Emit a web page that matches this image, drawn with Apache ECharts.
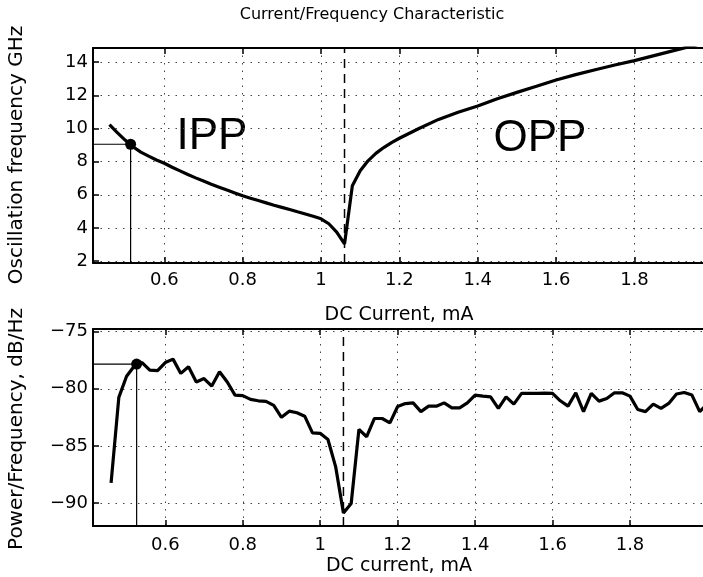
<!DOCTYPE html>
<html>
<head>
<meta charset="utf-8">
<script src="https://cdn.jsdelivr.net/npm/echarts@6/dist/echarts.min.js"></script>
<style>html,body{margin:0;padding:0;background:#fff;}#c{width:703px;height:577px;}</style>
</head>
<body>
<div id="c"></div>
<script>
// ---- data ----
const freqCurrent = [0.46,0.48,0.50,0.52,0.54,0.56,0.58,0.60,0.62,0.64,0.66,0.68,0.70,0.72,0.74,0.76,0.78,0.80,0.82,0.84,0.86,0.88,0.90,0.92,0.94,0.96,0.98,1.00,1.02,1.04,1.06,1.08,1.10,1.12,1.14,1.16,1.18,1.20,1.25,1.30,1.35,1.40,1.45,1.50,1.55,1.60,1.65,1.70,1.75,1.80,1.85,1.90,1.95,2.00];
const freqGHz = [10.23,9.75,9.30,8.90,8.57,8.33,8.10,7.90,7.66,7.44,7.22,7.02,6.83,6.64,6.46,6.28,6.11,5.94,5.79,5.65,5.51,5.37,5.24,5.11,4.97,4.84,4.70,4.55,4.25,3.75,3.03,6.55,7.45,8.05,8.50,8.85,9.15,9.41,10.00,10.55,10.98,11.36,11.80,12.18,12.55,12.93,13.25,13.55,13.83,14.10,14.40,14.70,15.00,15.30];

const psdCurrent = [0.46,0.48,0.50,0.52,0.54,0.56,0.58,0.60,0.62,0.64,0.66,0.68,0.70,0.72,0.74,0.76,0.78,0.80,0.82,0.84,0.86,0.88,0.90,0.92,0.94,0.96,0.98,1.00,1.02,1.04,1.06,1.08,1.10,1.12,1.14,1.16,1.18,1.20,1.22,1.24,1.26,1.28,1.30,1.32,1.34,1.36,1.38,1.40,1.42,1.44,1.46,1.48,1.50,1.52,1.54,1.56,1.58,1.60,1.62,1.64,1.66,1.68,1.70,1.72,1.74,1.76,1.78,1.80,1.82,1.84,1.86,1.88,1.90,1.92,1.94,1.96,1.98,2.00];
const psdDb = [-88.25,-80.75,-78.9,-78.0,-77.7,-78.36,-78.4,-77.7,-77.4,-78.65,-78.07,-79.4,-79.1,-79.76,-78.5,-79.4,-80.55,-80.6,-80.93,-81.05,-81.1,-81.45,-82.5,-81.96,-82.1,-82.4,-83.86,-83.9,-84.44,-86.84,-90.88,-90.05,-83.56,-84.2,-82.6,-82.6,-82.98,-81.55,-81.29,-81.23,-82.0,-81.52,-81.52,-81.23,-81.67,-81.67,-81.23,-80.55,-80.64,-80.7,-81.72,-80.7,-81.34,-80.4,-80.4,-80.4,-80.38,-80.4,-81.05,-81.52,-80.35,-82.0,-80.4,-81.08,-80.85,-80.35,-80.35,-80.64,-81.81,-82.0,-81.34,-81.72,-81.28,-80.46,-80.32,-80.55,-82.0,-81.3];

const topMarker = [0.514, 9.05];
const botMarker = [0.526, -77.83];
const boundaryCurrent = 1.06;

const xTicks = [0.6,0.8,1.0,1.2,1.4,1.6,1.8];
const freqTicks = [2,4,6,8,10,12,14];
const psdTicks = [-90,-85,-80,-75];

const topXRange = [0.418, 1.975];
const topYRange = [1.88, 14.86];
const botXRange = [0.4133, 1.9885];
const botYRange = [-92.02, -74.76];

const texts = {
  title: 'Current/Frequency Characteristic',
  xLabelTop: 'DC Current, mA',
  xLabelBot: 'DC current, mA',
  yLabelTop: 'Oscillation frequency GHz',
  yLabelBot: 'Power/Frequency, dB/Hz',
  left: 'IPP',
  right: 'OPP'
};

// ---- chart ----
const FONT = '"DejaVu Sans", "Liberation Sans", Arial, sans-serif';
const BIG = '"Liberation Sans", Arial, Helvetica, sans-serif';
const zip = (a, b) => a.map((v, i) => [v, b[i]]);

function xAxisPair(gi, range, margin) {
  return [{
    type: 'value', gridIndex: gi, position: 'bottom', min: range[0], max: range[1],
    axisLine: {show: true, onZero: false, lineStyle: {color: '#000', width: 2}},
    axisTick: {show: true, inside: true, length: 6, lineStyle: {color: '#000', width: 1.5}, customValues: xTicks},
    axisLabel: {show: true, color: '#000', fontSize: 18, fontFamily: FONT, margin: margin,
      customValues: xTicks, formatter: v => String(+v.toFixed(1))},
    splitLine: {show: true, lineStyle: {color: '#444', width: 1, type: [1.5, 6]}}
  }, {
    type: 'value', gridIndex: gi, position: 'top', min: range[0], max: range[1],
    axisLine: {show: true, onZero: false, lineStyle: {color: '#000', width: 2}},
    axisTick: {show: true, inside: true, length: 6, lineStyle: {color: '#000', width: 1.5}, customValues: xTicks},
    axisLabel: {show: false},
    splitLine: {show: false}
  }];
}
function yAxis(gi, range, ticks) {
  return {
    type: 'value', gridIndex: gi, position: 'left', min: range[0], max: range[1],
    axisLine: {show: true, onZero: false, lineStyle: {color: '#000', width: 2}},
    axisTick: {show: true, inside: true, length: 6, lineStyle: {color: '#000', width: 1.5}, customValues: ticks},
    axisLabel: {show: true, color: '#000', fontSize: 18, fontFamily: FONT, margin: 5,
      customValues: ticks, formatter: v => String(Math.round(v)).replace('-', '\u2212')},
    splitLine: {show: true, lineStyle: {color: '#444', width: 1, type: [1.5, 6]}}
  };
}

const chart = echarts.init(document.getElementById('c'), null, {renderer: 'canvas'});
const option = {
  animation: false,
  backgroundColor: '#fff',
  grid: [
    {left: 93, top: 48, right: 0, height: 215},
    {left: 93, top: 329, right: 0, height: 197}
  ],
  xAxis: [].concat(xAxisPair(0, topXRange, 8), xAxisPair(1, botXRange, 10)),
  yAxis: [yAxis(0, topYRange, freqTicks), yAxis(1, botYRange, psdTicks)],
  graphic: [
    {type: 'text', x: 372, y: 15, style: {text: texts.title, font: '16px ' + FONT, fill: '#000', align: 'center', verticalAlign: 'middle'}},
    {type: 'text', x: 399, y: 315, style: {text: texts.xLabelTop, font: '19px ' + FONT, fill: '#000', align: 'center', verticalAlign: 'middle'}},
    {type: 'text', x: 399, y: 566, style: {text: texts.xLabelBot, font: '19px ' + FONT, fill: '#000', align: 'center', verticalAlign: 'middle'}},
    {type: 'text', x: 17, y: 155, rotation: Math.PI / 2, style: {text: texts.yLabelTop, font: '20px ' + FONT, fill: '#000', align: 'center', verticalAlign: 'middle'}},
    {type: 'text', x: 17, y: 429, rotation: Math.PI / 2, style: {text: texts.yLabelBot, font: '20px ' + FONT, fill: '#000', align: 'center', verticalAlign: 'middle'}},
    {type: 'text', x: 212, y: 137, style: {text: texts.left, font: '44px ' + BIG, fill: '#000', align: 'center', verticalAlign: 'middle'}},
    {type: 'text', x: 540, y: 139, style: {text: texts.right, font: '44px ' + BIG, fill: '#000', align: 'center', verticalAlign: 'middle'}}
  ],
  series: [
    {type: 'line', xAxisIndex: 0, yAxisIndex: 0, symbol: 'none', silent: true,
      data: [[topXRange[0], topMarker[1]], topMarker, [topMarker[0], topYRange[0]]],
      lineStyle: {color: '#000', width: 1.2}},
    {type: 'line', xAxisIndex: 0, yAxisIndex: 0, symbol: 'none', silent: true,
      data: [[boundaryCurrent, topYRange[0]], [boundaryCurrent, topYRange[1]]],
      lineStyle: {color: '#000', width: 1.5, type: [9, 6]}},
    {type: 'line', xAxisIndex: 0, yAxisIndex: 0, symbol: 'none', clip: true,
      data: zip(freqCurrent, freqGHz), lineStyle: {color: '#000', width: 3.2}, z: 5},
    {type: 'scatter', xAxisIndex: 0, yAxisIndex: 0, symbol: 'circle', symbolSize: 11,
      data: [topMarker], itemStyle: {color: '#000', opacity: 1}, z: 6},
    {type: 'line', xAxisIndex: 2, yAxisIndex: 1, symbol: 'none', silent: true,
      data: [[botXRange[0], botMarker[1]], botMarker, [botMarker[0], botYRange[0]]],
      lineStyle: {color: '#000', width: 1.2}},
    {type: 'line', xAxisIndex: 2, yAxisIndex: 1, symbol: 'none', silent: true,
      data: [[boundaryCurrent, botYRange[0]], [boundaryCurrent, botYRange[1]]],
      lineStyle: {color: '#000', width: 1.5, type: [9, 6]}},
    {type: 'line', xAxisIndex: 2, yAxisIndex: 1, symbol: 'none', clip: true,
      data: zip(psdCurrent, psdDb), lineStyle: {color: '#000', width: 3.2}, z: 5},
    {type: 'scatter', xAxisIndex: 2, yAxisIndex: 1, symbol: 'circle', symbolSize: 11,
      data: [botMarker], itemStyle: {color: '#000', opacity: 1}, z: 6}
  ]
};
chart.setOption(option);
</script>
</body>
</html>
